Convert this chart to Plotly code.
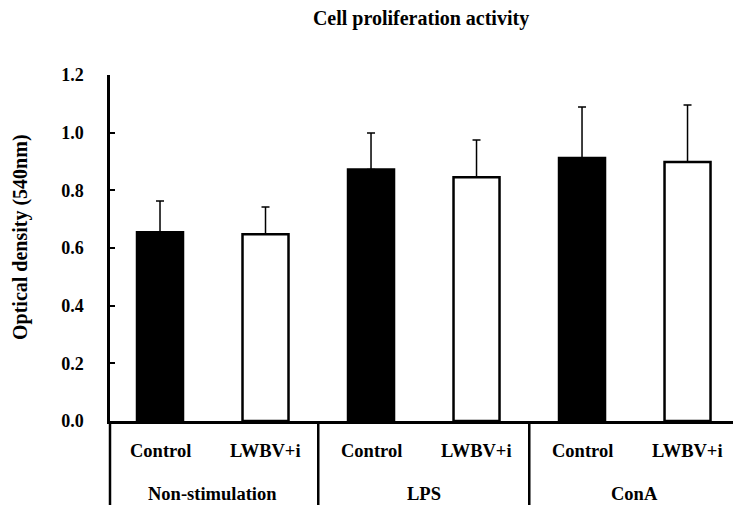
import plotly.graph_objects as go

# Groups and treatments
groups = ["Non-stimulation", "LPS", "ConA"]
treatments = ["Control", "LWBV+i"]

# Mean optical density (540 nm) and SD for each group
control_mean = [0.655, 0.872, 0.912]
control_sd = [0.108, 0.127, 0.177]
lwbv_mean = [0.648, 0.845, 0.898]
lwbv_sd = [0.094, 0.130, 0.198]

y_ticks = [0.0, 0.2, 0.4, 0.6, 0.8, 1.0, 1.2]

FONT = "Liberation Serif, Times New Roman, serif"
W, H = 733, 505
M_L, M_R, M_T, M_B = 110, 0, 75, 84
plot_h = H - M_T - M_B

# x positions: each group occupies two slots
ctrl_x = [2 * i for i in range(len(groups))]
lwbv_x = [2 * i + 1 for i in range(len(groups))]

fig = go.Figure()

fig.add_trace(go.Bar(
    x=ctrl_x, y=control_mean, width=0.436,
    marker=dict(color="black", line=dict(color="black", width=2.5)),
    error_y=dict(type="data", array=control_sd, symmetric=False,
                 arrayminus=[0] * len(control_sd),
                 color="black", thickness=1.5, width=4),
    name="Control", showlegend=False,
))
fig.add_trace(go.Bar(
    x=lwbv_x, y=lwbv_mean, width=0.436,
    marker=dict(color="white", line=dict(color="black", width=2.5)),
    error_y=dict(type="data", array=lwbv_sd, symmetric=False,
                 arrayminus=[0] * len(lwbv_sd),
                 color="black", thickness=1.5, width=4),
    name="LWBV+i", showlegend=False,
))

annotations = []
# Treatment labels under each bar
for i in range(len(groups)):
    for j, t in enumerate(treatments):
        annotations.append(dict(
            x=2 * i + j, xref="x", y=0, yref="paper", yanchor="middle",
            yshift=-30, text=t, showarrow=False,
            font=dict(family=FONT, size=18.5, color="black", weight="bold"),
        ))
    # Group label
    annotations.append(dict(
        x=2 * i + 0.5, xref="x", y=0, yref="paper", yanchor="middle",
        yshift=-73, text=groups[i], showarrow=False,
        font=dict(family=FONT, size=18.5, color="black", weight="bold"),
    ))

# Y axis title
annotations.append(dict(
    x=0, xref="paper", xshift=-90, y=(H - M_B - 237) / plot_h, yref="paper",
    text="Optical density (540nm)", textangle=-90, showarrow=False,
    xanchor="center", yanchor="middle",
    font=dict(family=FONT, size=20, color="black", weight="bold"),
))

# Table lines below the axis: left edge and group dividers
shapes = [dict(type="line", xref="paper", x0=0, x1=0, yref="paper",
               y0=0, y1=-M_B / plot_h - 0.01,
               line=dict(color="black", width=2.5))]
for i in range(1, len(groups)):
    shapes.append(dict(type="line", xref="x", x0=2 * i - 0.5, x1=2 * i - 0.5,
                       yref="paper", y0=0, y1=-M_B / plot_h - 0.01,
                       line=dict(color="black", width=2.5)))

fig.update_layout(
    width=W, height=H,
    margin=dict(l=M_L, r=M_R, t=M_T, b=M_B, pad=0),
    paper_bgcolor="white", plot_bgcolor="white",
    title=dict(text="Cell proliferation activity", x=421 / W, xref="container",
               xanchor="center", y=1 - 18 / H, yref="container", yanchor="middle",
               font=dict(family=FONT, size=20, color="black", weight="bold")),
    barmode="overlay",
    annotations=annotations,
    shapes=shapes,
    xaxis=dict(range=[-0.474, 5.431], showline=True, linecolor="black",
               linewidth=2.5, showticklabels=False, ticks="",
               showgrid=False, zeroline=False, fixedrange=True),
    yaxis=dict(range=[0, 1.2], tickvals=y_ticks,
               ticktext=[f"{v:.1f}" for v in y_ticks],
               showline=True, linecolor="black", linewidth=2.5,
               ticks="inside", ticklen=5, tickwidth=2, tickcolor="black",
               ticklabelstandoff=20,
               tickfont=dict(family=FONT, size=18, color="black", weight="bold"),
               showgrid=False, zeroline=False, fixedrange=True),
)

fig.write_html("out.html")
